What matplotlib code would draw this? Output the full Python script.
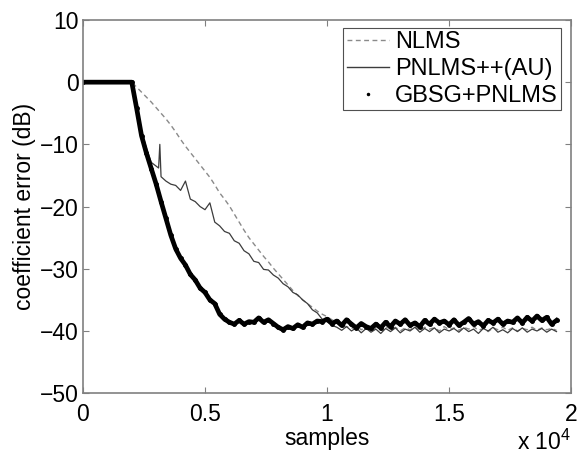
import matplotlib
matplotlib.use('Agg')
import matplotlib.pyplot as plt
from matplotlib.lines import Line2D

plt.rcParams['font.family'] = ['Liberation Sans', 'DejaVu Sans']
plt.rcParams['mathtext.fontset'] = 'custom'
plt.rcParams['mathtext.rm'] = 'Liberation Sans'

# samples (shared grid for NLMS and GBSG+PNLMS)
samples = [0] + list(range(2000, 19401, 200))

nlms = [0,
        0, -0.8, -1.6, -2.4, -3.2, -4.1, -5.0, -5.9, -6.9, -8.0,
        -9.2, -10.3, -11.3, -12.3, -13.3, -14.3, -15.3, -16.5, -17.8, -18.8,
        -19.9, -21.2, -22.5, -23.8, -25.0, -26.0, -27.0, -28.0, -28.9, -29.9,
        -30.8, -31.7, -32.6, -33.5, -34.3, -35.0, -35.6, -36.2, -36.8, -37.3,
        -37.7, -38.2, -38.6, -39.0, -39.3,
        -39.6, -39.2, -39.8, -39.4, -40.1, -39.5, -39.9, -39.3, -39.7, -39.4,
        -40.0, -39.5, -39.8, -39.3, -39.9, -39.4, -39.7, -39.5, -40.0, -39.3,
        -39.8, -39.5, -39.9, -39.4, -39.7, -39.3, -39.9, -39.6, -40.1, -39.5,
        -39.8, -39.4, -39.9, -39.5, -40.0, -39.6, -39.8, -39.4, -39.9, -39.5,
        -39.8, -39.6, -39.9]

gbsg = [0,
        0, -4.2, -8.6, -11.4, -13.9, -16.4, -19.2, -21.9, -24.6, -26.8,
        -28.3, -29.4, -30.9, -31.8, -33.1, -33.8, -35.0, -35.6, -37.3, -38.1,
        -38.6, -38.9, -38.3, -38.9, -38.5, -38.6, -37.9, -38.6, -38.2, -38.8,
        -39.4, -39.8, -39.3, -39.6, -39.0, -39.4, -38.7, -38.9, -38.4, -38.5,
        -38.1, -38.8, -38.4, -39.1, -38.2, -38.9, -39.5, -38.8, -39.3, -39.6,
        -38.9, -39.5, -38.6, -39.3, -38.4, -38.9, -38.2, -39.1, -38.7, -39.3,
        -38.3, -38.9, -38.1, -38.7, -38.4, -39.0, -38.2, -39.1, -38.6, -38.0,
        -38.9, -38.5, -39.2, -38.3, -38.7, -38.1, -38.9, -38.4, -38.6, -37.9,
        -38.7, -37.8, -38.4, -37.6, -38.3, -37.8, -38.9, -38.3]

# PNLMS++ has its own grid because of the spike near 3150
pn_samples = [0, 2000, 2200, 2400, 2600, 2800, 3000, 3100, 3150, 3200] + list(range(3400, 19401, 200))
pnlms = [0, 0, -4.0, -7.8, -10.6, -12.9, -13.5, -13.8, -10.0, -15.2,
         -15.9, -16.4, -16.6, -17.4, -15.9, -18.8, -19.2, -20.0, -20.5, -19.4,
         -22.5, -23.1, -24.0, -24.3, -25.5, -25.9, -27.1, -27.6, -28.8, -29.0,
         -30.1, -30.2, -31.0, -31.5, -32.4, -32.9, -33.8, -34.2, -35.0, -35.6,
         -36.6, -37.1, -38.1, -38.5,
         -39.1, -39.4, -39.9, -39.3, -40.0, -39.5, -40.3, -39.6, -40.2, -39.7,
         -40.4, -39.6, -40.1, -39.5, -40.3, -39.7, -40.0, -39.4, -40.2, -39.6,
         -40.1, -39.5, -40.3, -39.7, -40.0, -39.6, -40.2, -39.5, -40.1, -39.7,
         -40.4, -39.6, -40.0, -39.4, -40.2, -39.8, -40.3, -39.6, -40.1, -39.5,
         -40.2, -39.7, -40.0, -39.6, -40.2, -39.7, -40.1]

xticks = [0, 5000, 10000, 15000, 20000]
xlabels = ['0', '0.5', '1', '1.5', '2']
yticks = [-50, -40, -30, -20, -10, 0, 10]

fig = plt.figure(figsize=(5.84, 4.54), dpi=100)
ax = fig.add_axes([0.142, 0.134, 0.836, 0.822])

ax.plot(samples, nlms, color='#8a8a8a', lw=1.0, ls=(0, (3.5, 2.5)))
ax.plot(pn_samples, pnlms, color='#3c3c3c', lw=0.9)
ax.plot(samples, gbsg, color='black', lw=3.4, marker='.', ms=5)

ax.set_xlim(0, 20000)
ax.set_ylim(-50, 10)
ax.set_xticks(xticks)
ax.set_xticklabels(xlabels)
ax.set_yticks(yticks)
ax.tick_params(direction='in', top=True, right=True, length=4, width=0.8,
               colors='#808080', labelcolor='black', labelsize=16.5)
ax.tick_params(axis='x', pad=7)
ax.tick_params(axis='y', pad=3)
for s in ax.spines.values():
    s.set_color('#808080')
    s.set_linewidth(1.2)

ax.set_xlabel('samples', fontsize=16.5, labelpad=1)
ax.set_ylabel('coefficient error (dB)', fontsize=16.5, labelpad=3)
fig.text(0.977, 0.008, r'x 10$^{\mathregular{4}}$', fontsize=16.5, ha='right', va='baseline')

handles = [Line2D([], [], color='#8a8a8a', lw=1.0, ls=(0, (3.5, 2.5))),
           Line2D([], [], color='#3c3c3c', lw=1.0),
           Line2D([], [], color='black', ls='none', marker='.', ms=3)]
leg = ax.legend(handles, ['NLMS', 'PNLMS++(AU)', 'GBSG+PNLMS'],
                loc='upper right', bbox_to_anchor=(0.98, 0.979), borderaxespad=0,
                fontsize=17, fancybox=False, framealpha=1, edgecolor='#505050',
                handlelength=1.8, handletextpad=0.25, labelspacing=0.2,
                borderpad=0.15)
leg.get_frame().set_linewidth(0.8)

fig.savefig('out.png', dpi=100)
